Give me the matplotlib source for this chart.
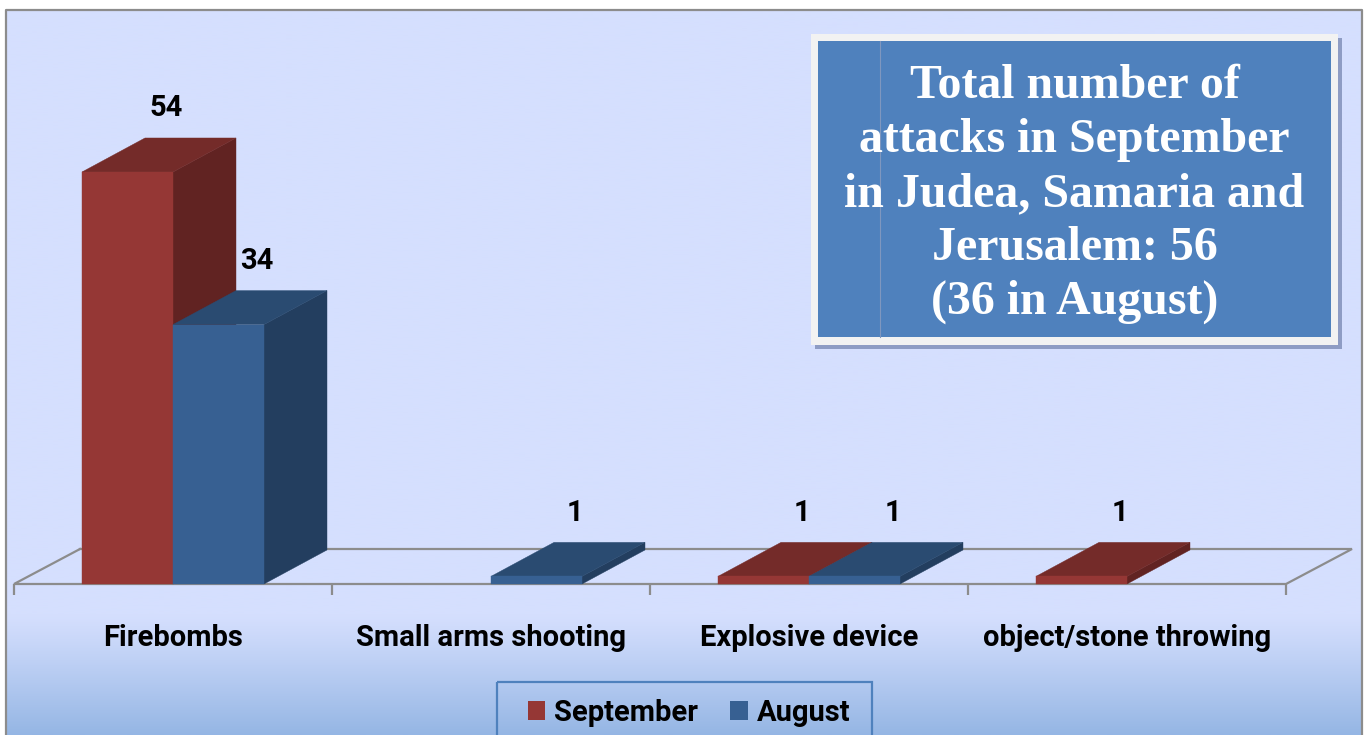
import numpy as np
import matplotlib
matplotlib.use("Agg")
import matplotlib.pyplot as plt
from matplotlib.patches import Polygon, Rectangle, Patch
from matplotlib.colors import to_rgb

# ---------------- data ----------------
categories = ["Firebombs", "Small arms shooting", "Explosive device", "object/stone throwing"]
series_names = ["September", "August"]
september = [54, 0, 1, 1]
august = [34, 1, 1, 0]
title_text = "Total number of\nattacks in September\nin Judea, Samaria and\nJerusalem: 56\n(36 in August)"

# ---------------- style ----------------
W, H = 1365, 735
SANS = ["Roboto", "DejaVu Sans"]
SERIF = ["Liberation Serif", "DejaVu Serif"]
FS = 21
sept_cols = ("#953735", "#742B29", "#612322")   # front, top, side
aug_cols = ("#376092", "#2A4B71", "#233E5F")
grid_col = "#8C8C8C"

fig = plt.figure(figsize=(W / 100, H / 100), dpi=100)
fig.patch.set_facecolor("white")


def fx(px):
    return px / W


def fy(py):
    return 1 - py / H


# background panel (pixel coordinates)
bg = fig.add_axes([0, 0, 1, 1], zorder=0)
bg.set_xlim(0, W)
bg.set_ylim(H, 0)
bg.axis("off")
top_c = np.array(to_rgb("#D5DFFE"))
bot_c = np.array(to_rgb("#95B6E4"))
ys = np.linspace(10, H, 500)
t = np.clip((ys - 615) / (H - 615), 0, 1) ** 1.1
grad = top_c[None, :] * (1 - t[:, None]) + bot_c[None, :] * t[:, None]
bg.imshow(grad[:, None, :], extent=(6, 1362, H, 10), aspect="auto",
          interpolation="bilinear", origin="upper")
bg.plot([6, 6, 1362, 1362], [H + 5, 10, 10, H + 5], color=grid_col, lw=1.6)

# main axes: front plane of the 3D chart
px_per_unit = 7.63
ax_left, ax_right, base_py = 14, 1286, 584
ymax = 60
ax = fig.add_axes([fx(ax_left), fy(base_py), (ax_right - ax_left) / W,
                   ymax * px_per_unit / H], zorder=1)
ax.set_xlim(-0.5, len(categories) - 0.5)
ax.set_ylim(0, ymax)
ax.patch.set_alpha(0)
for s in ax.spines.values():
    s.set_visible(False)

px_per_cat = (ax_right - ax_left) / len(categories)
dxb, dyb = 63 / px_per_cat, 34 / px_per_unit     # bar depth
dxf, dyf = 66 / px_per_cat, 35 / px_per_unit     # floor depth
bw = 91 / px_per_cat

# floor outline
x0f, x1f = -0.5, len(categories) - 0.5
ax.plot([x0f + dxf, x0f, x1f, x1f + dxf, x0f + dxf],
        [dyf, 0, 0, dyf, dyf], color=grid_col, lw=1.6, clip_on=False, zorder=1,
        solid_joinstyle="miter")


def bar3d(x0, v, cols):
    if v <= 0:
        return
    x1 = x0 + bw
    front = [(x0, 0), (x1, 0), (x1, v), (x0, v)]
    top = [(x0, v), (x1, v), (x1 + dxb, v + dyb), (x0 + dxb, v + dyb)]
    side = [(x1, 0), (x1 + dxb, dyb), (x1 + dxb, v + dyb), (x1, v)]
    for pts, c in ((side, cols[2]), (top, cols[1]), (front, cols[0])):
        ax.add_patch(Polygon(pts, closed=True, facecolor=c, edgecolor=c,
                             lw=0.3, clip_on=False, zorder=2))
    ax.annotate(str(v), xy=(x0 + (bw + dxb) / 2, v + dyb), xytext=(5, 21.5),
                textcoords="offset points", ha="center", va="center",
                fontsize=FS, fontweight="bold", family=SANS, color="black",
                annotation_clip=False, zorder=3)


for i in range(len(categories)):
    bar3d(i - bw, september[i], sept_cols)
    bar3d(i, august[i], aug_cols)

# category labels & boundary ticks
ax.set_xticks(range(len(categories)))
ax.set_xticklabels(categories, fontsize=FS, fontweight="bold", family=SANS)
ax.set_xticks(np.arange(-0.5, len(categories), 1), minor=True)
ax.tick_params(axis="x", which="major", length=0, pad=29)
ax.tick_params(axis="x", which="minor", length=8, width=1.6, color=grid_col)
ax.tick_params(axis="y", left=False, labelleft=False)

# legend
leg = ax.legend(handles=[Patch(facecolor=sept_cols[0]), Patch(facecolor=aug_cols[0])],
                labels=series_names, loc="center",
                bbox_to_anchor=(fx(689), fy(713)), bbox_transform=fig.transFigure,
                ncol=2, frameon=False, handlelength=0.6, handleheight=0.62,
                handletextpad=0.3, columnspacing=1.1,
                prop={"family": SANS, "weight": "bold", "size": FS})

# overlay: title box and legend frame
ov = fig.add_axes([0, 0, 1, 1], zorder=3)
ov.set_xlim(0, W)
ov.set_ylim(H, 0)
ov.axis("off")
ov.patch.set_alpha(0)
ov.add_patch(Rectangle((815, 38), 527, 311, facecolor="#8E9CC4", edgecolor="none"))
ov.add_patch(Rectangle((811, 34), 527, 311, facecolor="#F2F2F2", edgecolor="none"))
ov.add_patch(Rectangle((818, 41), 513, 296, facecolor="#4F81BD", edgecolor="none"))
ov.plot([880, 880], [41, 337], color="#7F97BF", lw=0.8)
ov.text(1074.5, 194, title_text, ha="center", va="center", color="white",
        fontsize=34.5, fontweight="bold", family=SERIF, linespacing=1.29,
        multialignment="center")
ov.add_patch(Rectangle((497, 682), 375, 75, facecolor="none", edgecolor="#4F81BD", lw=1.6))

fig.savefig("out.png", dpi=100, facecolor=fig.get_facecolor())
